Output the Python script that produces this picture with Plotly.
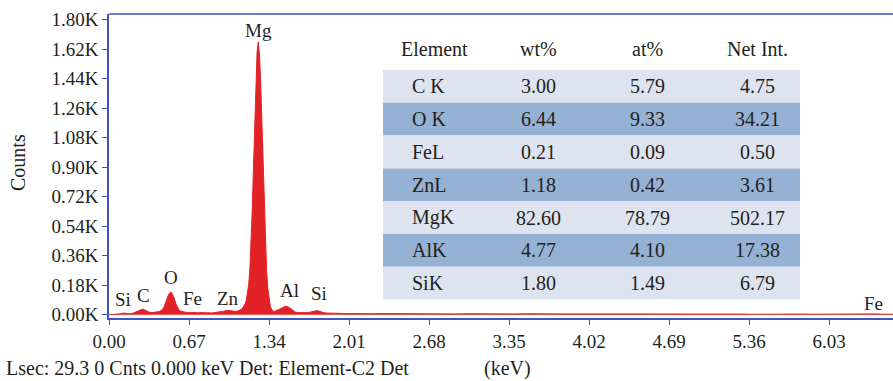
import plotly.graph_objects as go

# EDS spectrum: energy (keV) and counts
energy = [
    0.00, 0.02, 0.04, 0.06, 0.08, 0.10, 0.12, 0.14, 0.16, 0.18,
    0.20, 0.22, 0.24, 0.26, 0.28, 0.30, 0.32, 0.34, 0.36, 0.38,
    0.40, 0.42, 0.44, 0.46, 0.48, 0.50, 0.52, 0.54, 0.56, 0.58,
    0.60, 0.62, 0.64, 0.66, 0.68, 0.70, 0.72, 0.74, 0.76, 0.78,
    0.80, 0.82, 0.84, 0.86, 0.88, 0.90, 0.92, 0.94, 0.96, 0.98,
    1.00, 1.02, 1.04, 1.06, 1.08, 1.10, 1.11, 1.12, 1.13, 1.14,
    1.15, 1.16, 1.17, 1.18, 1.19, 1.20, 1.21, 1.22, 1.23, 1.24,
    1.25, 1.26, 1.27, 1.28, 1.29, 1.30, 1.31, 1.32, 1.33, 1.34,
    1.35, 1.36, 1.37, 1.38, 1.39, 1.40, 1.42, 1.44, 1.46, 1.48,
    1.50, 1.52, 1.54, 1.56, 1.58, 1.60, 1.62, 1.64, 1.66, 1.68,
    1.70, 1.72, 1.74, 1.76, 1.78, 1.80, 1.82, 1.84, 1.86, 1.88,
    1.90, 1.95, 2.00, 2.10, 2.20, 2.30, 2.40, 2.50, 2.60, 2.70,
    2.80, 2.90, 3.00, 3.10, 3.20, 3.30, 3.40, 3.50, 3.60, 3.70,
    3.80, 3.90, 4.00, 4.10, 4.20, 4.30, 4.40, 4.50, 4.60, 4.70,
    4.80, 4.90, 5.00, 5.10, 5.20, 5.30, 5.40, 5.50, 5.60, 5.70,
    5.80, 5.90, 6.00, 6.10, 6.20, 6.30, 6.40, 6.50, 6.57,
]
counts = [
    0, 1, 2, 2, 3, 6, 10, 8, 5, 6,
    9, 15, 24, 31, 34, 29, 21, 15, 13, 14,
    16, 19, 26, 45, 85, 125, 140, 112, 68, 36,
    22, 17, 15, 14, 15, 13, 14, 12, 14, 13,
    12, 14, 12, 11, 13, 12, 14, 17, 21, 25,
    27, 26, 22, 20, 23, 28, 34, 42, 52, 66,
    88, 125, 185, 280, 430, 645, 900, 1180, 1430, 1600,
    1665, 1590, 1420, 1170, 890, 630, 420, 265, 160, 92,
    55, 35, 24, 20, 21, 25, 32, 40, 48, 52,
    48, 38, 25, 17, 13, 12, 11, 12, 13, 15,
    19, 23, 25, 22, 16, 12, 10, 9, 10, 8,
    9, 8, 7, 7, 6, 7, 6, 6, 5, 7,
    6, 5, 6, 5, 6, 5, 5, 6, 7, 8,
    5, 5, 6, 5, 4, 5, 5, 4, 5, 4,
    5, 4, 4, 5, 4, 4, 3, 4, 4, 3,
    4, 3, 4, 3, 3, 4, 5, 3, 3,
]

# Peak labels (element, energy keV, label height in counts)
peak_names = ["Si", "C", "O", "Fe", "Zn", "Mg", "Al", "Si", "Fe"]
peak_x = [0.12, 0.29, 0.52, 0.70, 1.00, 1.25, 1.51, 1.76, 6.40]
peak_y = [90, 118, 225, 100, 100, 1737, 150, 128, 71]

# Axis ticks
x_ticks = [0.00, 0.67, 1.34, 2.01, 2.68, 3.35, 4.02, 4.69, 5.36, 6.03]
y_ticks = [0, 180, 360, 540, 720, 900, 1080, 1260, 1440, 1620, 1800]
y_tick_text = ["0.00K", "0.18K", "0.36K", "0.54K", "0.72K", "0.90K",
               "1.08K", "1.26K", "1.44K", "1.62K", "1.80K"]

# Quantification table
tbl_header = ["Element", "wt%", "at%", "Net Int."]
tbl_element = ["C K", "O K", "FeL", "ZnL", "MgK", "AlK", "SiK"]
tbl_wt = ["3.00", "6.44", "0.21", "1.18", "82.60", "4.77", "1.80"]
tbl_at = ["5.79", "9.33", "0.09", "0.42", "78.79", "4.10", "1.49"]
tbl_net = ["4.75", "34.21", "0.50", "3.61", "502.17", "17.38", "6.79"]

W, H = 893, 381
ML, MR, MT, MB = 109, 0, 14, 63
SERIF = "Liberation Serif, Times New Roman, serif"
TXT = "#231f20"
AXIS = "#3e55c4"
RED = "#e32228"
LIGHT = "#dde3ef"
DARK = "#95b1d3"
FS_TICK = 19
FS_TEXT = 20

fig = go.Figure()
fig.add_trace(go.Scatter(
    x=energy, y=counts, mode="lines", fill="tozeroy",
    line=dict(color=RED, width=1, shape="linear"),
    fillcolor=RED, hoverinfo="skip", showlegend=False,
))

annotations = []
for name, ex, ey in zip(peak_names, peak_x, peak_y):
    annotations.append(dict(x=ex, y=ey, xref="x", yref="y", text=name,
                            xanchor="center", yanchor="middle", showarrow=False,
                            font=dict(family=SERIF, size=FS_TICK, color=TXT)))


# convert pixel coordinates to paper coordinates
def px(xp):
    return (xp - ML) / (W - ML - MR)


def py(yp):
    return (H - MB - yp) / (H - MT - MB)


def label(x, y, text, size=FS_TEXT, xanchor="center", **kw):
    return dict(x=x, y=y, xref="paper", yref="paper", text=text, showarrow=False,
                xanchor=xanchor, yanchor="middle",
                font=dict(family=SERIF, size=size, color=TXT), **kw)


shapes = []
row_top, row_h = 70, 32.8
tbl_left, tbl_right = 383, 800
col_x = [434, 538, 647, 757]
for c, h in enumerate(tbl_header):
    annotations.append(label(px(col_x[c]), py(49), h))
for i in range(len(tbl_element)):
    y0 = row_top + i * row_h
    shapes.append(dict(type="rect", xref="paper", yref="paper",
                       x0=px(tbl_left), x1=px(tbl_right), y0=py(y0 + row_h), y1=py(y0),
                       fillcolor=DARK if i % 2 else LIGHT, line=dict(width=0), layer="below"))
    yc = py(y0 + row_h / 2)
    annotations.append(label(px(410), yc, tbl_element[i], xanchor="left"))
    for c, col in enumerate([tbl_wt, tbl_at, tbl_net], start=1):
        annotations.append(label(px(col_x[c]), yc, col[i]))

# top frame line
shapes.append(dict(type="line", xref="paper", yref="paper", x0=0, x1=1, y0=1, y1=1,
                   line=dict(color=AXIS, width=1.5)))

# footer texts and y-axis title
annotations.append(label(px(4), py(368), "Lsec: 29.3 0 Cnts 0.000 keV Det: Element-C2 Det",
                         xanchor="left"))
annotations.append(label(px(507), py(368), "(keV)"))
annotations.append(label(px(18), py(163), "Counts", textangle=-90))

fig.update_layout(
    width=W, height=H,
    margin=dict(l=ML, r=MR, t=MT, b=MB),
    paper_bgcolor="white", plot_bgcolor="white",
    showlegend=False,
    shapes=shapes, annotations=annotations,
    xaxis=dict(range=[0, 6.566], tickvals=x_ticks,
               ticktext=[f"{v:.2f}" for v in x_ticks],
               showgrid=False, zeroline=False, showline=True, linecolor=AXIS, linewidth=1.5,
               ticks="outside", ticklen=5, tickcolor=AXIS,
               tickfont=dict(family=SERIF, size=FS_TICK, color=TXT)),
    yaxis=dict(range=[-20, 1835], tickvals=y_ticks, ticktext=y_tick_text,
               showgrid=False, zeroline=False, showline=True, linecolor=AXIS, linewidth=1.5,
               ticks="outside", ticklen=5, tickcolor=AXIS,
               tickfont=dict(family=SERIF, size=FS_TICK, color=TXT)),
)

fig.write_html("out.html")
